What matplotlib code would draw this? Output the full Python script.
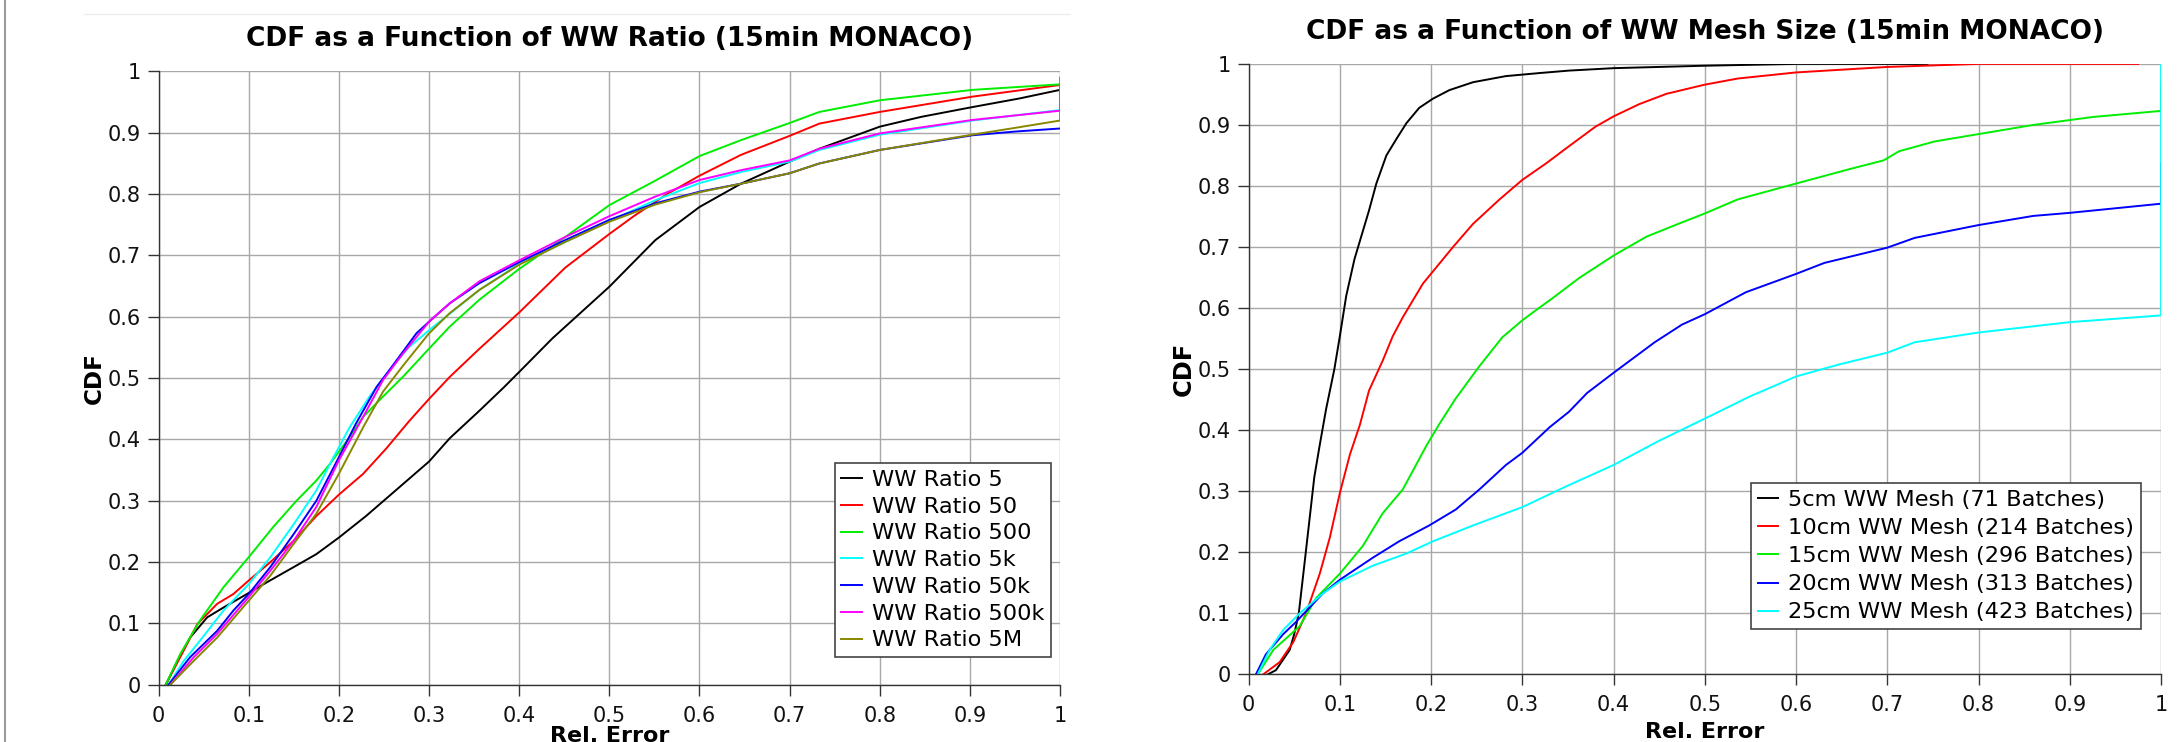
import matplotlib
matplotlib.use("Agg")
import matplotlib.pyplot as plt
import matplotlib.ticker as ticker
from matplotlib.lines import Line2D

# ---- left panel: CDF vs WW ratio ----
ratio_labels = ["WW Ratio 5", "WW Ratio 50", "WW Ratio 500", "WW Ratio 5k",
                "WW Ratio 50k", "WW Ratio 500k", "WW Ratio 5M"]
ratio_colors = ["#000000", "#ff0000", "#00ee00", "#00ffff", "#0000ff", "#ff00ff", "#888800"]

r5_x = [0.008, 0.021, 0.035, 0.054, 0.072, 0.098, 0.12, 0.15, 0.175, 0.2, 0.23, 0.267,
        0.3, 0.323, 0.356, 0.383, 0.4, 0.437, 0.5, 0.551, 0.6, 0.646, 0.7, 0.733, 0.8,
        0.846, 0.903, 0.955, 1.0]
r5_y = [0, 0.039, 0.077, 0.11, 0.126, 0.148, 0.167, 0.192, 0.213, 0.24, 0.275, 0.322,
        0.364, 0.402, 0.447, 0.485, 0.51, 0.565, 0.649, 0.725, 0.779, 0.817, 0.853, 0.874,
        0.91, 0.926, 0.942, 0.956, 0.97]
r50_x = [0.008, 0.024, 0.043, 0.065, 0.083, 0.1, 0.124, 0.15, 0.175, 0.2, 0.227, 0.253,
         0.278, 0.3, 0.323, 0.356, 0.4, 0.451, 0.5, 0.528, 0.564, 0.6, 0.646, 0.7, 0.733,
         0.8, 0.903, 1.0]
r50_y = [0, 0.045, 0.099, 0.132, 0.148, 0.17, 0.2, 0.235, 0.275, 0.31, 0.344, 0.386,
         0.43, 0.466, 0.502, 0.548, 0.607, 0.68, 0.735, 0.765, 0.8, 0.83, 0.864, 0.895,
         0.915, 0.934, 0.959, 0.978]
r500_x = [0.008, 0.024, 0.046, 0.072, 0.1, 0.127, 0.153, 0.175, 0.19, 0.212, 0.227, 0.249,
          0.271, 0.3, 0.323, 0.356, 0.4, 0.451, 0.5, 0.551, 0.6, 0.646, 0.7, 0.733, 0.8,
          0.903, 1.0]
r500_y = [0, 0.05, 0.105, 0.159, 0.208, 0.257, 0.3, 0.333, 0.36, 0.404, 0.437, 0.47,
          0.502, 0.548, 0.584, 0.628, 0.678, 0.73, 0.782, 0.822, 0.862, 0.888, 0.916, 0.934,
          0.953, 0.97, 0.979]
r5k_x = [0.011, 0.028, 0.046, 0.072, 0.1, 0.124, 0.15, 0.175, 0.194, 0.212, 0.234, 0.256,
         0.278, 0.3, 0.323, 0.356, 0.4, 0.451, 0.5, 0.551, 0.6, 0.646, 0.7, 0.733, 0.8,
         0.903, 1.0]
r5k_y = [0, 0.039, 0.072, 0.121, 0.164, 0.208, 0.262, 0.317, 0.371, 0.42, 0.47, 0.513,
         0.551, 0.578, 0.605, 0.644, 0.686, 0.722, 0.756, 0.79, 0.818, 0.836, 0.853, 0.872,
         0.897, 0.92, 0.937]
r50k_x = [0.011, 0.035, 0.065, 0.083, 0.1, 0.124, 0.15, 0.175, 0.2, 0.219, 0.242, 0.256,
          0.286, 0.3, 0.323, 0.356, 0.4, 0.451, 0.5, 0.551, 0.6, 0.646, 0.7, 0.733, 0.8,
          0.903, 0.95, 1.0]
r50k_y = [0, 0.045, 0.088, 0.121, 0.148, 0.192, 0.246, 0.3, 0.371, 0.426, 0.486, 0.513,
          0.573, 0.592, 0.622, 0.655, 0.689, 0.725, 0.758, 0.785, 0.804, 0.817, 0.834, 0.85,
          0.872, 0.896, 0.902, 0.907]
r500k_x = [0.013, 0.039, 0.065, 0.1, 0.124, 0.15, 0.175, 0.2, 0.227, 0.249, 0.271, 0.3,
           0.323, 0.356, 0.4, 0.451, 0.5, 0.551, 0.6, 0.646, 0.7, 0.733, 0.8, 0.903, 1.0, 1.0]
r500k_y = [0, 0.045, 0.083, 0.143, 0.186, 0.235, 0.29, 0.366, 0.437, 0.497, 0.54, 0.592,
           0.622, 0.658, 0.692, 0.73, 0.764, 0.796, 0.823, 0.839, 0.855, 0.874, 0.899,
           0.921, 0.936, 0.978]
r5M_x = [0.013, 0.039, 0.065, 0.1, 0.124, 0.15, 0.175, 0.2, 0.227, 0.249, 0.271, 0.3,
         0.323, 0.356, 0.4, 0.451, 0.5, 0.551, 0.6, 0.646, 0.7, 0.733, 0.8, 0.903, 0.95,
         1.0, 1.0]
r5M_y = [0, 0.039, 0.077, 0.137, 0.178, 0.23, 0.279, 0.344, 0.42, 0.478, 0.52, 0.573,
         0.606, 0.644, 0.685, 0.722, 0.755, 0.783, 0.803, 0.817, 0.834, 0.85, 0.872, 0.897,
         0.908, 0.92, 0.99]

# ---- right panel: CDF vs mesh size ----
mesh_labels = ["5cm WW Mesh (71 Batches)", "10cm WW Mesh (214 Batches)",
               "15cm WW Mesh (296 Batches)", "20cm WW Mesh (313 Batches)",
               "25cm WW Mesh (423 Batches)"]
mesh_colors = ["#000000", "#ff0000", "#00ee00", "#0000ff", "#00ffff"]

m5_x = [0.021, 0.03, 0.045, 0.05, 0.055, 0.061, 0.067, 0.072, 0.078, 0.085, 0.094, 0.1,
        0.107, 0.116, 0.125, 0.132, 0.14, 0.151, 0.162, 0.173, 0.187, 0.202, 0.22, 0.246,
        0.282, 0.319, 0.351, 0.4, 0.5, 0.6, 0.744]
m5_y = [0, 0.007, 0.04, 0.066, 0.1, 0.178, 0.257, 0.323, 0.376, 0.435, 0.5, 0.554,
        0.62, 0.68, 0.725, 0.76, 0.804, 0.85, 0.877, 0.903, 0.928, 0.943, 0.957, 0.97,
        0.98, 0.985, 0.989, 0.993, 0.997, 1.0, 1.0]
m10_x = [0.016, 0.034, 0.049, 0.063, 0.078, 0.089, 0.1, 0.111, 0.122, 0.132, 0.147, 0.158,
         0.169, 0.191, 0.224, 0.246, 0.275, 0.3, 0.326, 0.351, 0.38, 0.4, 0.428,
         0.458, 0.5, 0.536, 0.6, 0.7, 0.8, 0.975]
m10_y = [0, 0.02, 0.053, 0.1, 0.165, 0.224, 0.297, 0.36, 0.409, 0.465, 0.514, 0.554,
         0.585, 0.64, 0.7, 0.738, 0.778, 0.81, 0.837, 0.865, 0.897, 0.914, 0.934,
         0.951, 0.966, 0.976, 0.986, 0.995, 1.0, 1.0]
m15_x = [0.01, 0.027, 0.056, 0.074, 0.1, 0.125, 0.147, 0.169, 0.195, 0.209, 0.227, 0.253,
         0.278, 0.3, 0.319, 0.332, 0.363, 0.4, 0.436, 0.471, 0.5, 0.536, 0.6, 0.657, 0.696,
         0.713, 0.752, 0.8, 0.86, 0.925, 1.0, 1.0]
m15_y = [0, 0.04, 0.079, 0.125, 0.165, 0.21, 0.264, 0.303, 0.375, 0.41, 0.452, 0.505,
         0.552, 0.58, 0.601, 0.615, 0.65, 0.686, 0.717, 0.738, 0.755, 0.778, 0.804, 0.827,
         0.842, 0.857, 0.873, 0.885, 0.9, 0.913, 0.923, 0.969]
m20_x = [0.008, 0.019, 0.038, 0.052, 0.081, 0.1, 0.136, 0.165, 0.198, 0.227, 0.253, 0.282,
         0.3, 0.33, 0.351, 0.371, 0.4, 0.445, 0.475, 0.5, 0.545, 0.6, 0.631, 0.7, 0.73,
         0.8, 0.86, 0.9, 1.0, 1.0]
m20_y = [0, 0.033, 0.066, 0.086, 0.132, 0.155, 0.191, 0.218, 0.244, 0.27, 0.303, 0.343,
         0.363, 0.405, 0.43, 0.461, 0.494, 0.544, 0.573, 0.59, 0.626, 0.656, 0.674, 0.699,
         0.715, 0.736, 0.751, 0.756, 0.771, 0.837]
m25_x = [0.01, 0.023, 0.038, 0.056, 0.081, 0.1, 0.136, 0.173, 0.202, 0.246, 0.3, 0.351,
         0.4, 0.449, 0.5, 0.549, 0.6, 0.648, 0.7, 0.73, 0.8, 0.9, 1.0, 1.0]
m25_y = [0, 0.04, 0.073, 0.1, 0.132, 0.152, 0.178, 0.198, 0.218, 0.244, 0.274, 0.31,
         0.343, 0.382, 0.419, 0.455, 0.488, 0.508, 0.527, 0.544, 0.56, 0.577, 0.588, 1.0]

ticks = [0, 0.1, 0.2, 0.3, 0.4, 0.5, 0.6, 0.7, 0.8, 0.9, 1]


@ticker.FuncFormatter
def short_formatter(x, pos):
    return "%g" % round(x, 2)


def style_axes(ax, title, ylabel_size, xlabel_pad):
    ax.set_xlim(0, 1)
    ax.set_ylim(0, 1)
    ax.set_xticks(ticks)
    ax.set_yticks(ticks)
    ax.xaxis.set_major_formatter(short_formatter)
    ax.yaxis.set_major_formatter(short_formatter)
    ax.grid(True, color="#a8a8a8", linewidth=1.0)
    ax.set_axisbelow(True)
    for side in ["top", "right"]:
        ax.spines[side].set_visible(False)
    for side in ["left", "bottom"]:
        ax.spines[side].set_color("#333333")
        ax.spines[side].set_linewidth(1.0)
    ax.tick_params(direction="out", length=8, width=1, color="#333333",
                   labelsize=15, labelcolor="#111111")
    ax.tick_params(axis="x", pad=7)
    ax.tick_params(axis="y", pad=5)
    ax.set_title(title, fontsize=19, fontweight="bold", pad=18)
    ax.set_xlabel("Rel. Error", fontsize=16, fontweight="bold", labelpad=xlabel_pad)
    ax.set_ylabel("CDF", fontsize=ylabel_size, fontweight="bold", labelpad=1)


fig = plt.figure(figsize=(21.84, 7.42), dpi=100)
ax1 = fig.add_axes([0.0726, 0.0771, 0.4128, 0.8266])
ax2 = fig.add_axes([0.5717, 0.0911, 0.4178, 0.8228])

ratio_series = [(r5_x, r5_y), (r50_x, r50_y), (r500_x, r500_y), (r5k_x, r5k_y),
                (r50k_x, r50k_y), (r500k_x, r500k_y), (r5M_x, r5M_y)]
for (xs, ys), color, label in zip(ratio_series, ratio_colors, ratio_labels):
    ax1.plot(xs, ys, color=color, linewidth=1.4, label=label)

mesh_series = [(m5_x, m5_y), (m10_x, m10_y), (m15_x, m15_y), (m20_x, m20_y), (m25_x, m25_y)]
for (xs, ys), color, label in zip(mesh_series, mesh_colors, mesh_labels):
    ax2.plot(xs, ys, color=color, linewidth=1.4, label=label)

style_axes(ax1, "CDF as a Function of WW Ratio (15min MONACO)", 16.7, 0)
style_axes(ax2, "CDF as a Function of WW Mesh Size (15min MONACO)", 17.4, 5)

legend_kw = dict(loc="lower right", fancybox=False, framealpha=1,
                 edgecolor="#444444", handlelength=0.9,
                 handletextpad=0.45, borderpad=0.3, borderaxespad=0)
leg1 = ax1.legend(bbox_to_anchor=(0.99, 0.045), fontsize=16.2, labelspacing=0.3,
                  **legend_kw)
leg2 = ax2.legend(bbox_to_anchor=(0.978, 0.074), fontsize=16.2, labelspacing=0.36,
                  **legend_kw)
for leg in (leg1, leg2):
    leg.get_frame().set_linewidth(1.2)

# thin frame lines left over from the original page
fig.add_artist(Line2D([0.0025, 0.0025], [0, 1], transform=fig.transFigure,
                      color="#9a9a9a", linewidth=1.5))
fig.add_artist(Line2D([0.0385, 0.49], [0.981, 0.981], transform=fig.transFigure,
                      color="#eeeeee", linewidth=1.0))

fig.savefig("out.png", dpi=100)
